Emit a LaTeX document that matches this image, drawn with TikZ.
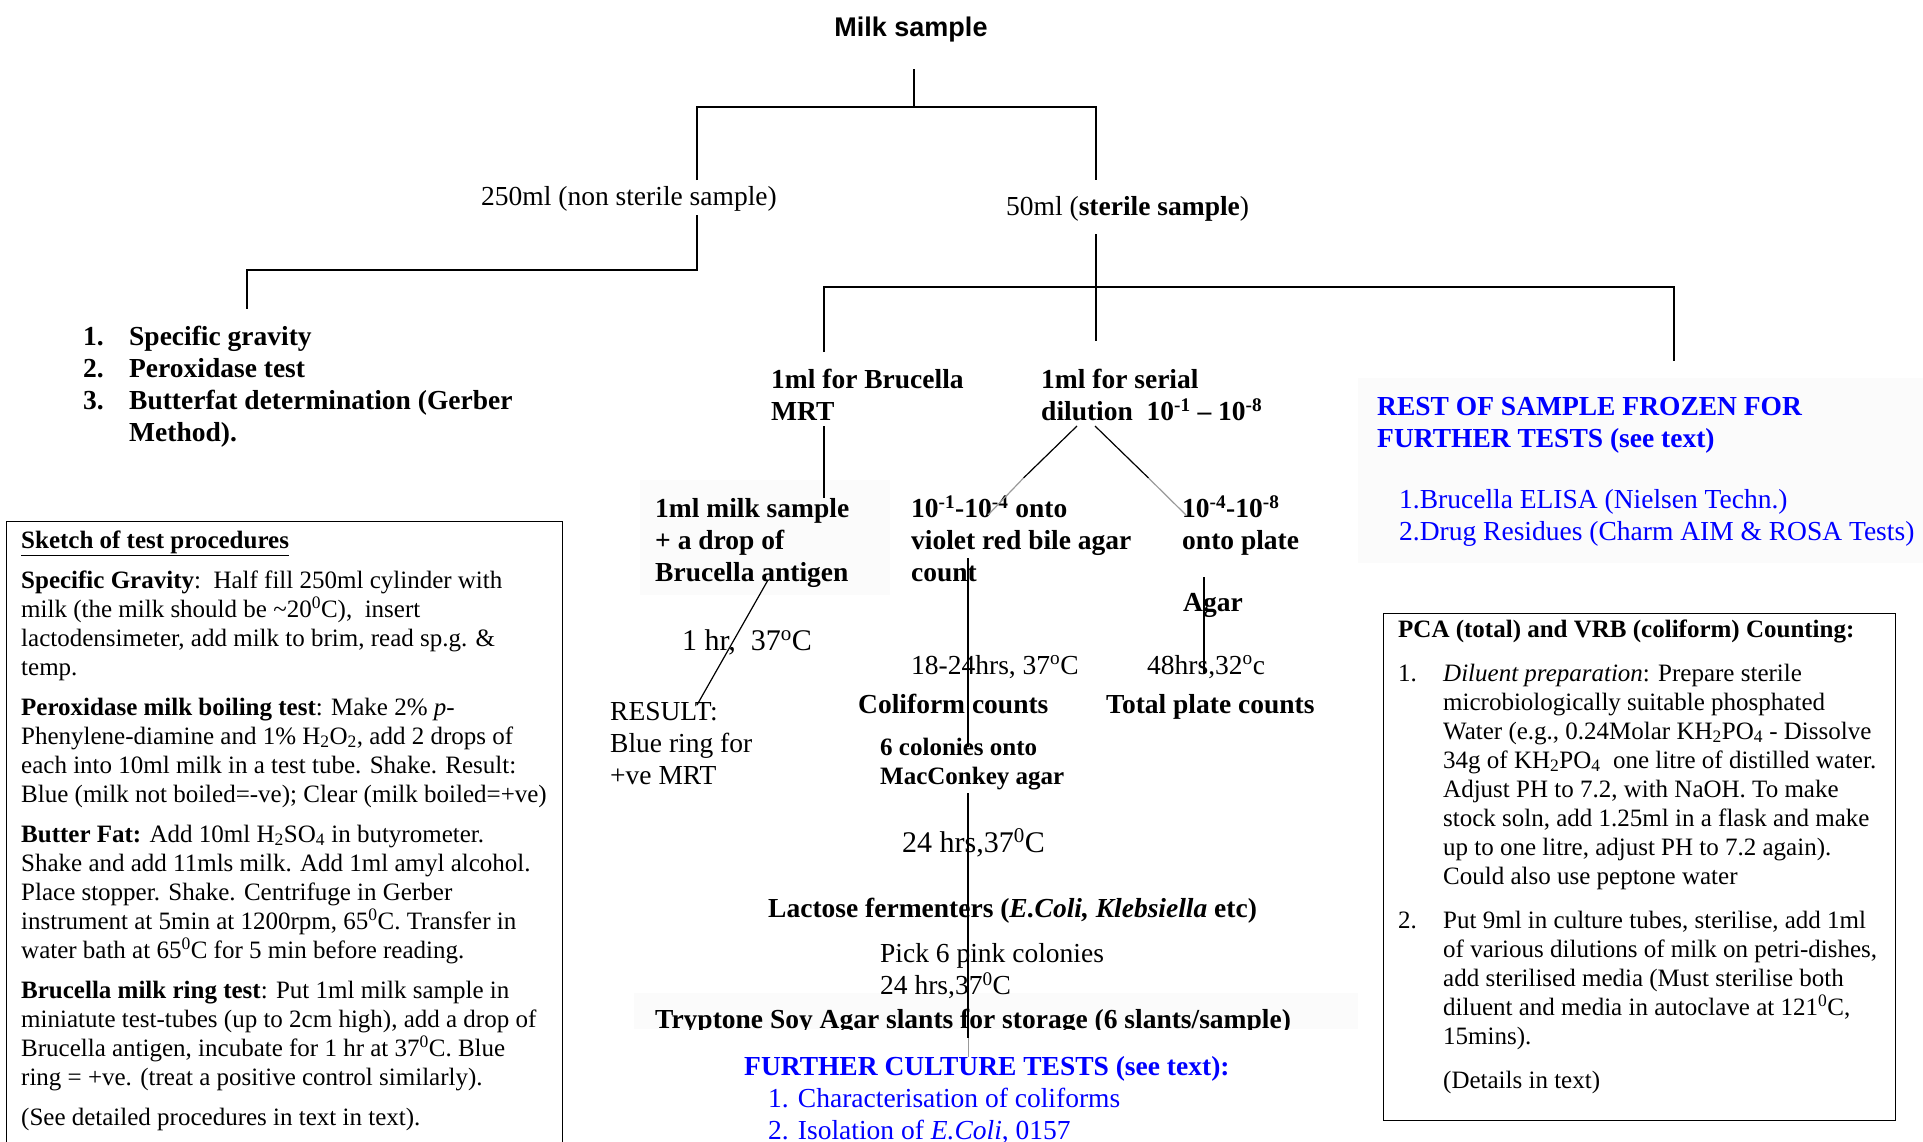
\documentclass[tikz,border=0pt]{standalone}
\usepackage{fontspec}
\setmainfont{Liberation Serif}
\newfontfamily\headfont{Liberation Sans}
\usepackage{xcolor}
\usetikzlibrary{calc,positioning,backgrounds}

\definecolor{testblue}{RGB}{0,0,255}
\definecolor{boxshade}{gray}{0.985}

% first row of a block: fixes the distance from the node top to the first baseline
\newcommand{\openrow}{\rule{0pt}{26pt}}

\tikzset{
  branch/.style={line width=1.4pt},
  fadedbranch/.style={line width=1.2pt, black!40},
  txt/.style={inner sep=0pt, anchor=base west},
  block/.style={inner sep=0pt, anchor=north west, align=left},
  regular/.style={font=\fontsize{27.5}{32}\selectfont},
  heavy/.style={font=\fontsize{27.5}{32}\selectfont\bfseries},
  larger/.style={font=\fontsize{30}{34}\selectfont},
  boxtext/.style={font=\fontsize{25}{29}\selectfont},
  boxheavy/.style={font=\fontsize{25}{29}\selectfont\bfseries},
  frame/.style={draw, line width=1.2pt, inner sep=0pt, anchor=north west},
}

\begin{document}
\begin{tikzpicture}[x=1pt, y=-1pt]
    \useasboundingbox (0,0) rectangle (1923,1141);

    \begin{scope}[on background layer]
        \fill[boxshade] (640,480) rectangle (890,595);
        \fill[boxshade] (1358,378) rectangle (1923,563);
        \fill[boxshade] (634,993) rectangle (1358,1029);
    \end{scope}

    \node [txt, anchor=base, font=\headfont\bfseries\fontsize{27}{32}\selectfont] (milk) at (911,36) {Milk sample};
    \node [txt, regular] (non_sterile) at (481,205) {250ml (non sterile sample)};
    \node [txt, regular] (sterile) at (1006,215) {50ml (\textbf{sterile sample})};

    \node [block, heavy] (raw_tests) at (83,319) {\openrow\makebox[46pt][l]{1.}Specific gravity\\
        \makebox[46pt][l]{2.}Peroxidase test\\
        \makebox[46pt][l]{3.}Butterfat determination (Gerber\\
        \hspace*{46pt}Method).};

    \node [block, heavy] (brucella) at (771,362) {\openrow 1ml for Brucella\\MRT};
    \node [block, heavy] (dilution) at (1041,362) {\openrow 1ml for serial\\dilution\ \ 10\textsuperscript{-1} -- 10\textsuperscript{-8}};
    \node [block, heavy] (ring_test) at (655,491) {\openrow 1ml milk sample\\+ a drop of\\Brucella antigen};
    \node [block, heavy] (vrb) at (911,491) {\openrow 10\textsuperscript{-1}-10\textsuperscript{-4} onto\\violet red bile agar\\count};
    \node [block, heavy] (plate) at (1182,491) {\openrow 10\textsuperscript{-4}-10\textsuperscript{-8}\\onto plate};
    \node [txt, heavy] (agar) at (1183,611) {Agar};

    \node [txt, larger] (ring_incub) at (682,650) {1 hr,\ \ 37\textsuperscript{o}C};
    \node [txt, regular] (vrb_incub) at (911,674) {18-24hrs, 37\textsuperscript{o}C};
    \node [txt, regular] (plate_incub) at (1147,674) {48hrs,32\textsuperscript{o}c};
    \node [block, regular] (result) at (610,694) {\openrow RESULT:\\Blue ring for\\+ve MRT};
    \node [txt, heavy] (coliform) at (858,713) {Coliform counts};
    \node [txt, heavy] (total_plate) at (1106,713) {Total plate counts};
    \node [block, boxheavy] (macconkey) at (880,729) {\openrow 6 colonies onto\\MacConkey agar};
    \node [txt, larger] (mac_incub) at (902,852) {24 hrs,37\textsuperscript{0}C};
    \node [txt, heavy] (lactose) at (768,917) {Lactose fermenters (\textit{E.Coli, Klebsiella} etc)};
    \node [block, regular] (pick) at (880,936) {\openrow Pick 6 pink colonies\\24 hrs,37\textsuperscript{0}C};

    \begin{scope}
        \clip (600,990) rectangle (1400,1029);
        \node [txt, heavy] (tryptone) at (655,1028) {Tryptone Soy Agar slants for storage (6 slants/sample)};
    \end{scope}

    \node [txt, heavy, testblue] (further) at (744,1075) {FURTHER CULTURE TESTS (see text):};
    \node [block, regular, testblue] (further_list) at (768,1081) {\openrow 1. Characterisation of coliforms\\2. Isolation of \textit{E.Coli}, 0157};

    \node [block, heavy, testblue] (frozen) at (1377,389) {\openrow REST OF SAMPLE FROZEN FOR\\FURTHER TESTS (see text)};
    \node [block, regular, testblue] (frozen_list) at (1399,482) {\openrow 1.Brucella ELISA (Nielsen Techn.)\\2.Drug Residues (Charm AIM \& ROSA Tests)};

    % boxed notes
    \node [frame, minimum width=556pt, minimum height=700pt] (sketch) at (6,521) {};
    \node [block, boxtext] (sketch_text) at (21,522) {\openrow\underline{\textbf{Sketch of test procedures}}\\[11pt]
        \textbf{Specific Gravity}:\ \ Half fill 250ml cylinder with\\
        milk (the milk should be \textasciitilde20\textsuperscript{0}C),\ \ insert\\
        lactodensimeter, add milk to brim, read sp.g. \&\\
        temp.\\[11pt]
        \textbf{Peroxidase milk boiling test}: Make 2\% \textit{p}-\\
        Phenylene-diamine and 1\% H\textsubscript{2}O\textsubscript{2}, add 2 drops of\\
        each into 10ml milk in a test tube. Shake. Result:\\
        Blue (milk not boiled=-ve); Clear (milk boiled=+ve)\\[11pt]
        \textbf{Butter Fat:} Add 10ml H\textsubscript{2}SO\textsubscript{4} in butyrometer.\\
        Shake and add 11mls milk. Add 1ml amyl alcohol.\\
        Place stopper. Shake. Centrifuge in Gerber\\
        instrument at 5min at 1200rpm, 65\textsuperscript{0}C. Transfer in\\
        water bath at 65\textsuperscript{0}C for 5 min before reading.\\[11pt]
        \textbf{Brucella milk ring test}: Put 1ml milk sample in\\
        miniatute test-tubes (up to 2cm high), add a drop of\\
        Brucella antigen, incubate for 1 hr at 37\textsuperscript{0}C. Blue\\
        ring = +ve. (treat a positive control similarly).\\[11pt]
        (See detailed procedures in text in text).};

    \node [frame, minimum width=512pt, minimum height=507pt] (counting) at (1383,613) {};
    \node [block, boxtext] (counting_text) at (1398,611) {\openrow\textbf{PCA (total) and VRB (coliform) Counting:}\\[15pt]
        \makebox[45pt][l]{1.}\textit{Diluent preparation}: Prepare sterile\\
        \hspace*{45pt}microbiologically suitable phosphated\\
        \hspace*{45pt}Water (e.g., 0.24Molar KH\textsubscript{2}PO\textsubscript{4} - Dissolve\\
        \hspace*{45pt}34g of KH\textsubscript{2}PO\textsubscript{4}\ \ one litre of distilled water.\\
        \hspace*{45pt}Adjust PH to 7.2, with NaOH. To make\\
        \hspace*{45pt}stock soln, add 1.25ml in a flask and make\\
        \hspace*{45pt}up to one litre, adjust PH to 7.2 again).\\
        \hspace*{45pt}Could also use peptone water\\[15pt]
        \makebox[45pt][l]{2.}Put 9ml in culture tubes, sterilise, add 1ml\\
        \hspace*{45pt}of various dilutions of milk on petri-dishes,\\
        \hspace*{45pt}add sterilised media (Must sterilise both\\
        \hspace*{45pt}diluent and media in autoclave at 121\textsuperscript{0}C,\\
        \hspace*{45pt}15mins).\\[15pt]
        \hspace*{45pt}(Details in text)};

    % tree
    \coordinate (milk_stem) at (914,69);
    \coordinate (split_top) at (914,107);
    \coordinate (non_sterile_in) at (697,180);
    \coordinate (sterile_in) at (1096,180);
    \draw[branch] (milk_stem) -- (split_top);
    \draw[branch] (non_sterile_in) |- (sterile_in |- split_top) -- (sterile_in);

    \coordinate (non_sterile_out) at (697,215);
    \coordinate (raw_split) at (247,270);
    \coordinate (raw_in) at (247,309);
    \draw[branch] (non_sterile_out) |- (raw_split) -- (raw_in);

    \coordinate (sterile_out) at (1096,234);
    \coordinate (sterile_split) at (1096,287);
    \coordinate (brucella_in) at (824,352);
    \coordinate (dilution_in) at (1096,341);
    \coordinate (frozen_in) at (1674,361);
    \draw[branch] (sterile_out) -- (dilution_in);
    \draw[branch] (brucella_in) |- (frozen_in |- sterile_split) -- (frozen_in);

    \coordinate (brucella_out) at (824,426);
    \coordinate (ring_in) at (824,498);
    \draw[branch] (brucella_out) -- (ring_in);

    \coordinate (dilution_left) at (1077,426);
    \coordinate (vrb_fade) at (1023.5,478);
    \coordinate (vrb_in) at (988,515);
    \coordinate (dilution_right) at (1095,426);
    \coordinate (plate_fade) at (1148.5,478);
    \coordinate (plate_in) at (1186,515);
    \draw[branch, line width=1.2pt] (dilution_left) -- (vrb_fade);
    \draw[fadedbranch] (vrb_fade) -- (vrb_in);
    \draw[branch, line width=1.2pt] (dilution_right) -- (plate_fade);
    \draw[fadedbranch] (plate_fade) -- (plate_in);

    \coordinate (ring_out) at (768,580);
    \coordinate (result_in) at (697,705);
    \draw[branch, line width=1.2pt] (ring_out) -- (result_in);

    \coordinate (vrb_out) at (968,558);
    \coordinate (mac_in) at (968,747);
    \coordinate (mac_out) at (968,793);
    \coordinate (tryptone_out) at (968,1038);
    \coordinate (further_in) at (968,1057);
    \draw[branch] (vrb_out) -- (mac_in);
    \draw[branch] (mac_out) -- (tryptone_out);
    \draw[fadedbranch, line width=0.8pt] (tryptone_out) -- (further_in);

    \coordinate (plate_out) at (1204,577);
    \coordinate (total_in) at (1204,673);
    \draw[branch] (plate_out) -- (total_in);

\end{tikzpicture}
\end{document}
